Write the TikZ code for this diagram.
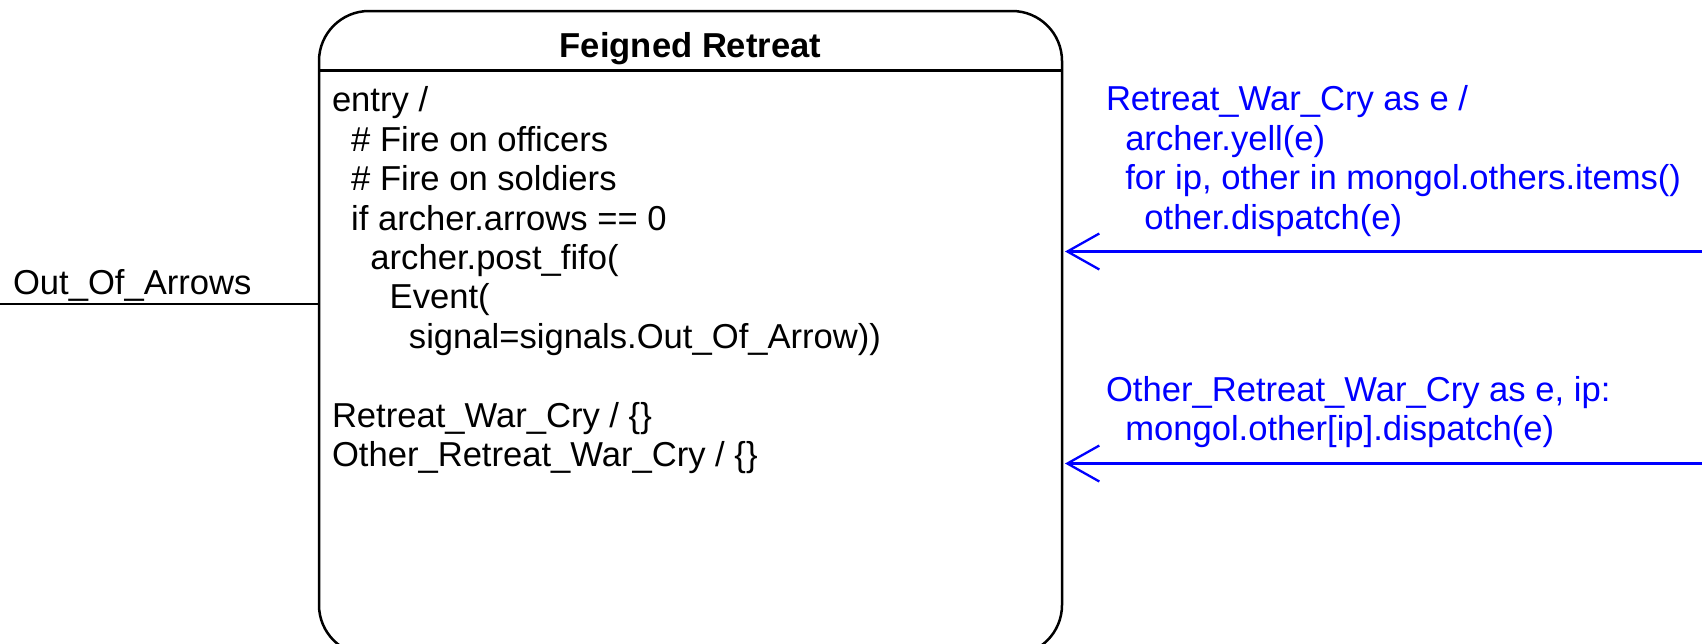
\documentclass[tikz,border=0pt]{standalone}
\usepackage{fontspec}
\setmainfont{Liberation Sans}
\usetikzlibrary{arrows.meta}
\definecolor{trblue}{RGB}{0,0,255}
\tikzset{
  statebox/.style={draw=black, line width=1.25pt, rounded corners=25pt, inner sep=0pt, outer sep=0pt,
    minimum width=371.5pt, minimum height=322pt},
  txt/.style={inner sep=0pt, outer sep=0pt, align=left, font=\fontsize{17.3pt}{19.7pt}\selectfont},
  bluetxt/.style={txt, text=trblue},
  trans/.style={draw=trblue, line width=1.15pt, shorten >=1.5pt,
    -{Straight Barb[length=16pt,width=18pt,line width=1.15pt]}},
  plain/.style={draw=black, line width=1.2pt}
}
\newcommand{\ind}[1]{\hspace*{#1}}
\begin{document}
\begin{tikzpicture}[x=0.5pt,y=-0.5pt]
\useasboundingbox (0,0) rectangle (1702,643);
\begin{scope}
\clip (0,0) rectangle (1702,643);
\node[statebox] (state) at (690.5,333) {};
\end{scope}
\coordinate (sep) at (0,70.5);
\draw[line width=1.25pt] (sep -| state.west) -- (sep -| state.east);
\node[txt, anchor=base, font=\fontsize{17.3pt}{19.7pt}\selectfont\bfseries] (title) at (690.5,57) {Feigned Retreat};
\node[txt, anchor=north west] (body) at (332,84.4) {\strut entry /\\
\ind{0.556em}\# Fire on officers\\
\ind{0.556em}\# Fire on soldiers\\
\ind{0.556em}if archer.arrows == 0\\
\ind{1.112em}archer.post\_fifo(\\
\ind{1.668em}Event(\\
\ind{2.224em}signal=signals.Out\_Of\_Arrow))\\
\mbox{}\\
Retreat\_War\_Cry / \{\}\\
Other\_Retreat\_War\_Cry / \{\}};
% left transition
\coordinate (outL) at (0,304);
\draw[plain] (outL) -- (outL -| state.west);
\node[txt, anchor=base west] (outlabel) at (13,294) {Out\_Of\_Arrows};
% right transitions
\coordinate (in1) at (1702,251.5);
\draw[trans] (in1) -- (in1 -| state.east);
\node[bluetxt, anchor=north west] (lab1) at (1106,83.4) {\strut Retreat\_War\_Cry as e /\\
\ind{0.556em}archer.yell(e)\\
\ind{0.556em}for ip, other in mongol.others.items()\\
\ind{1.112em}other.dispatch(e)};
\coordinate (in2) at (1702,463.5);
\draw[trans] (in2) -- (in2 -| state.east);
\node[bluetxt, anchor=north west] (lab2) at (1106,374) {\strut Other\_Retreat\_War\_Cry as e, ip:\\
\ind{0.556em}mongol.other[ip].dispatch(e)};
\end{tikzpicture}
\end{document}
